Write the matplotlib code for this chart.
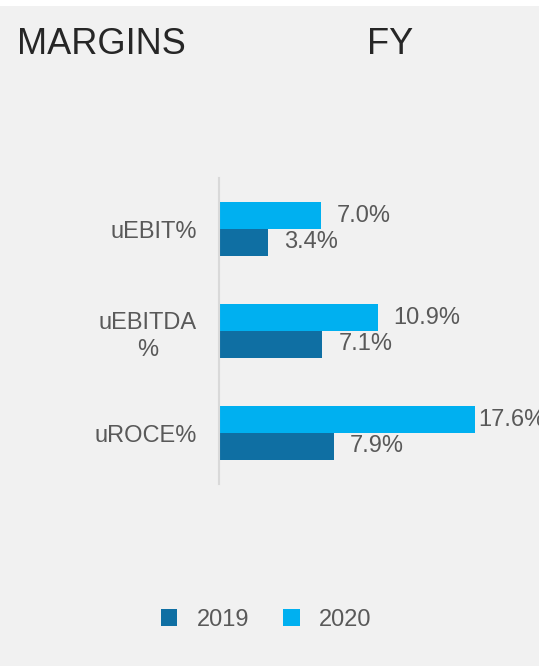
import matplotlib
matplotlib.use("Agg")
import matplotlib.pyplot as plt
from matplotlib.patches import Rectangle

plt.rcParams['font.family'] = ['Liberation Sans', 'DejaVu Sans']

# Chart data
categories = ["uEBIT%", "uEBITDA\n%", "uROCE%"]
fy2019 = [3.4, 7.1, 7.9]
fy2020 = [7.0, 10.9, 17.6]
series_labels = ["2019", "2020"]

COL_2019 = "#0f6fa3"
COL_2020 = "#00b0f0"
BG = "#f1f1f1"
TXT = "#595959"

W, H = 539, 666
fig = plt.figure(figsize=(W / 100, H / 100), dpi=100, facecolor=BG)

# white strip along the top edge
fig.patches.append(Rectangle((0, 1 - 6 / H), 1, 6 / H, transform=fig.transFigure,
                             facecolor="white", edgecolor="none", zorder=0))

ax = fig.add_axes([219 / W, 1 - 484 / H, (W - 219) / W, 306 / H])
ax.set_facecolor(BG)

bh = 0.26
ys = list(range(len(categories)))
b20 = ax.barh([y - bh / 2 for y in ys], fy2020, height=bh, color=COL_2020, label=series_labels[1])
b19 = ax.barh([y + bh / 2 for y in ys], fy2019, height=bh, color=COL_2019, label=series_labels[0])

ax.set_xlim(0, (W - 219) / 14.55)
ax.set_ylim(len(categories) - 0.5, -0.5)

# value labels (largest one sits tight against its bar, like the original)
vmax = max(fy2020 + fy2019)
for bars, vals in ((b20, fy2020), (b19, fy2019)):
    for rect, v in zip(bars, vals):
        off = 3 if v == vmax else 16
        ax.annotate(f"{v:.1f}%", (v, rect.get_y() + rect.get_height() / 2),
                    xytext=(off, 0), textcoords="offset pixels",
                    ha="left", va="center", fontsize=17, color=TXT)

ax.set_yticks(ys)
ax.set_yticklabels(categories, fontsize=17, color=TXT, multialignment="center",
                   linespacing=1.3)
ax.tick_params(axis="y", length=0, pad=16)
ax.set_xticks([])
for s in ("top", "right", "bottom"):
    ax.spines[s].set_visible(False)
ax.spines["left"].set_color("#d9d9d9")
ax.spines["left"].set_linewidth(1.5)

# titles
fig.text(17 / W, 1 - 54 / H, "MARGINS", fontsize=26, color="#262626", ha="left", va="baseline")
fig.text(367 / W, 1 - 54 / H, "FY", fontsize=26, color="#262626", ha="left", va="baseline")

fig.legend(handles=[b19, b20], labels=series_labels, loc="center",
           bbox_to_anchor=(266 / W, 1 - 620 / H), ncol=2, frameon=False,
           fontsize=17, labelcolor=TXT, handlelength=0.7, handleheight=0.7,
           handletextpad=0.8, columnspacing=1.45)

fig.savefig("out.png", dpi=100, facecolor=BG)
